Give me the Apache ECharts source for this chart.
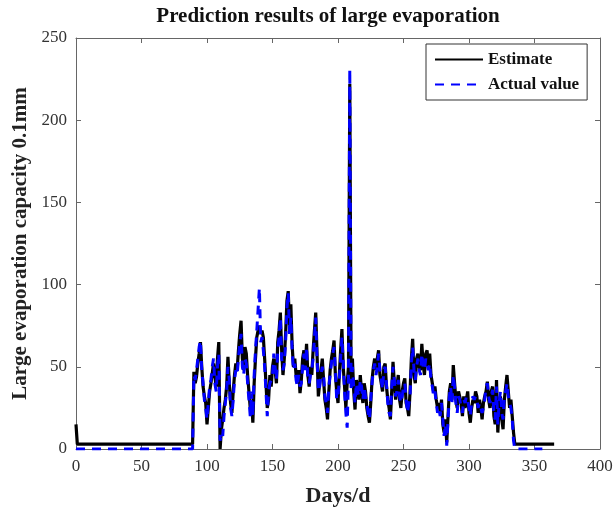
<!DOCTYPE html>
<html>
<head>
<meta charset="utf-8">
<script src="https://cdn.jsdelivr.net/npm/echarts@6/dist/echarts.min.js"></script>
<style>
  html, body { margin: 0; padding: 0; background: #fff; }
  #chart { width: 614px; height: 507px; }
</style>
</head>
<body>
<div id="chart"></div>
<script>
// flat parts at the start and end of the year, as [day, value]
const estimateStart = [[0, 15], [1, 3], [89, 3]];
const estimateEnd = [[335, 3], [365, 3]];
const actualStart = [[0, 0], [89, 0]];
const actualEnd = [[335, 0], [356, 0]];

// daily values from day 90 to day 334
const firstDay = 90;
const estimateMid = [
  47, 40, 44, 52, 58, 65, 50, 38, 32, 28,
  15, 25, 35, 40, 46, 52, 44, 38, 55, 65,
  0, 12, 18, 25, 30, 38, 56, 40, 28, 22,
  35, 45, 52, 48, 60, 70, 78, 55, 48, 62,
  58, 45, 35, 25, 30, 16, 40, 55, 68, 72,
  75, 70, 72, 68, 55, 40, 25, 30, 45, 38,
  50, 55, 48, 40, 65, 72, 83, 60, 45, 55,
  70, 90, 96, 75, 88, 63, 50, 55, 45, 40,
  48, 34, 42, 55, 60, 50, 64, 45, 38, 50,
  45, 60, 72, 83, 58, 32, 40, 48, 55, 42,
  30, 25, 18, 35, 48, 55, 60, 66, 45, 35,
  28, 45, 60, 73, 50, 38, 25, 40, 50, 222,
  40, 55, 35, 24, 42, 38, 30, 45, 35, 28,
  40, 35, 25, 20, 16, 28, 42, 50, 55, 48,
  55, 60, 45, 40, 35, 50, 52, 38, 30, 25,
  18, 35, 53, 40, 30, 38, 45, 30, 25, 35,
  40, 43, 28, 25, 20, 35, 55, 67, 45, 40,
  55, 58, 50, 48, 64, 52, 45, 58, 60, 50,
  58, 45, 40, 35, 38, 30, 25, 28, 22, 30,
  15, 10, 18, 4, 20, 35, 40, 30, 51, 40,
  30, 25, 35, 36, 28, 20, 32, 25, 30, 35,
  22, 16, 25, 30, 28, 35, 32, 22, 30, 25,
  18, 28, 32, 35, 41, 30, 25, 35, 38, 20,
  15, 42, 10, 25, 32, 18, 12, 30, 38, 45,
  35, 25, 30, 20, 10
];
const actualMid = [
  45, 42, 48, 55, 62, 66, 48, 40, 30, 25,
  18, 28, 38, 42, 50, 55, 40, 35, 50, 58,
  5, 10, 8, 20, 28, 35, 50, 42, 25, 20,
  30, 42, 48, 45, 55, 65, 70, 50, 45, 55,
  52, 40, 30, 20, 35, 20, 45, 60, 72, 85,
  98, 65, 68, 60, 50, 35, 20, 35, 40, 42,
  45, 58, 50, 42, 60, 68, 80, 55, 48, 52,
  65, 85, 95, 70, 80, 60, 48, 52, 42, 38,
  45, 38, 40, 50, 58, 48, 62, 42, 40, 45,
  48, 55, 68, 80, 55, 35, 38, 45, 50, 45,
  32, 28, 22, 38, 45, 52, 58, 62, 48, 30,
  32, 42, 55, 68, 52, 35, 22, 13, 45, 231,
  35, 50, 38, 28, 40, 35, 32, 42, 38, 30,
  38, 32, 28, 22, 18, 30, 40, 48, 52, 45,
  50, 58, 48, 42, 36, 48, 50, 40, 28, 22,
  20, 38, 50, 42, 32, 35, 42, 32, 28, 32,
  38, 40, 30, 22, 22, 32, 52, 62, 48, 42,
  50, 55, 48, 45, 58, 50, 48, 55, 56, 48,
  52, 42, 38, 32, 35, 28, 22, 25, 20, 28,
  18, 8, 15, 2, 18, 32, 38, 28, 45, 38,
  28, 22, 32, 30, 25, 22, 30, 28, 32, 30,
  25, 20, 28, 32, 30, 32, 30, 25, 28, 28,
  22, 25, 30, 38, 40, 32, 28, 32, 36, 22,
  18, 38, 15, 28, 35, 22, 18, 32, 35, 40,
  32, 28, 25, 18, 5
];

const toPairs = (arr) => arr.map((v, i) => [firstDay + i, v]);
const estimateData = estimateStart.concat(toPairs(estimateMid), estimateEnd);
const actualData = actualStart.concat(toPairs(actualMid), actualEnd);

const serif = 'Liberation Serif';
const chart = echarts.init(document.getElementById('chart'));

const tickLabel = { fontFamily: serif, fontSize: 17, color: '#333' };
const axisGrey = '#666';

chart.setOption({
  animation: false,
  title: {
    text: 'Prediction results of large evaporation',
    left: 323,
    top: 1,
    textAlign: 'center',
    textStyle: { fontFamily: serif, fontWeight: 'bold', fontSize: 21, color: '#111' }
  },
  legend: {
    orient: 'vertical',
    left: 426,
    top: 44,
    padding: [7, 8, 7, 8],
    itemGap: 8,
    itemWidth: 48,
    itemHeight: 14,
    borderColor: '#333',
    borderWidth: 1,
    backgroundColor: '#fff',
    itemStyle: { opacity: 0 },
    textStyle: { fontFamily: serif, fontWeight: 'bold', fontSize: 17, color: '#111' },
    data: ['Estimate', 'Actual value']
  },
  grid: { left: 76, right: 14, top: 38, bottom: 58, outerBoundsMode: 'none' },
  xAxis: [{
    type: 'value',
    min: 0, max: 400, interval: 50,
    name: 'Days/d',
    nameLocation: 'middle',
    nameGap: 36,
    nameTextStyle: { fontFamily: serif, fontWeight: 'bold', fontSize: 22, color: '#222' },
    axisLine: { show: true, onZero: false, lineStyle: { color: axisGrey } },
    axisTick: { inside: true, length: 5, lineStyle: { color: axisGrey } },
    axisLabel: Object.assign({ margin: 9 }, tickLabel),
    splitLine: { show: false }
  }, {
    type: 'value',
    position: 'top',
    min: 0, max: 400, interval: 50,
    axisLine: { show: true, onZero: false, lineStyle: { color: axisGrey } },
    axisTick: { inside: true, length: 5, lineStyle: { color: axisGrey } },
    axisLabel: { show: false },
    splitLine: { show: false }
  }],
  yAxis: [{
    type: 'value',
    min: 0, max: 250, interval: 50,
    name: 'Large evaporation capacity 0.1mm',
    nameLocation: 'middle',
    nameGap: 44,
    nameTextStyle: { fontFamily: serif, fontWeight: 'bold', fontSize: 21, color: '#222' },
    axisLine: { show: true, onZero: false, lineStyle: { color: axisGrey } },
    axisTick: { inside: true, length: 5, lineStyle: { color: axisGrey } },
    axisLabel: Object.assign({ margin: 9 }, tickLabel),
    splitLine: { show: false }
  }, {
    type: 'value',
    position: 'right',
    min: 0, max: 250, interval: 50,
    axisLine: { show: true, onZero: false, lineStyle: { color: axisGrey } },
    axisTick: { inside: true, length: 5, lineStyle: { color: axisGrey } },
    axisLabel: { show: false },
    splitLine: { show: false }
  }],
  series: [{
    name: 'Estimate',
    type: 'line',
    data: estimateData,
    symbol: 'none',
    color: '#000',
    lineStyle: { color: '#000', width: 3.2 }
  }, {
    name: 'Actual value',
    type: 'line',
    data: actualData,
    symbol: 'none',
    color: '#0000ff',
    lineStyle: { color: '#0000ff', width: 3, type: [9, 7] }
  }]
});
</script>
</body>
</html>
